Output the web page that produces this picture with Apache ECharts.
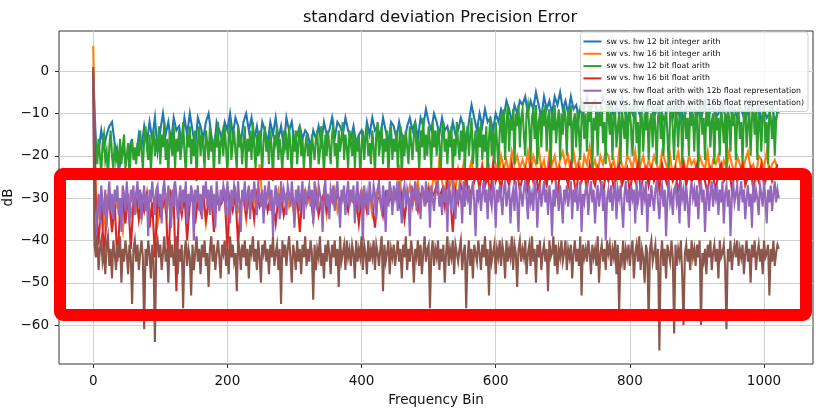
<!DOCTYPE html>
<html>
<head>
<meta charset="utf-8">
<script src="https://cdn.jsdelivr.net/npm/echarts@6/dist/echarts.min.js"></script>
<style>html,body{margin:0;padding:0;background:#fff}#c{width:819px;height:411px}</style>
</head>
<body>
<div id="c"></div>
<script>
const seriesNames = [
  'sw vs. hw 12 bit integer arith',
  'sw vs. hw 16 bit integer arith',
  'sw vs. hw 12 bit float arith',
  'sw vs. hw 16 bit float arith',
  'sw vs. hw float arith with 12b float representation',
  'sw vs. hw float arith with 16b float representation)'
];
const xTicks = [0, 200, 400, 600, 800, 1000];
const yTicks = [-60, -50, -40, -30, -20, -10, 0];
// bin spacing of the sampled values in each series
const binSteps = [4, 4, 2, 4, 2, 2];

const blue = [
-1,-17,-19,-14,-18,-15,-13,-12,-17,-19,-22,-18,-21,-20,-17,-19,
-20,-15,-18,-13,-17,-12,-16,-11,-19,-14,-10,-15,-12,-17,-11,-14,
-13,-17,-11,-15,-10,-14,-18,-11,-13,-16,-12,-10,-15,-19,-12,-14,
-16,-12,-14,-10,-15,-11,-13,-17,-12,-10,-14,-11,-16,-13,-18,-12,
-14,-17,-12,-15,-11,-16,-13,-18,-11,-14,-12,-17,-15,-13,-16,-14,
-15,-18,-14,-16,-13,-17,-12,-15,-14,-11,-16,-12,-13,-15,-11,-14,
-16,-13,-17,-15,-14,-18,-12,-15,-11,-14,-13,-16,-11,-14,-17,-12,
-13,-16,-12,-15,-17,-13,-11,-14,-12,-16,-11,-13,-9,-12,-14,-10,
-12,-15,-11,-14,-13,-16,-12,-15,-14,-11,-13,-17,-12,-8,-11,-14,
-10,-13,-9,-12,-11,-14,-10,-12,-9,-11,-7,-9,-12,-8,-10,-7,
-8,-6,-10,-7,-9,-5,-8,-11,-6,-9,-7,-10,-6,-8,-5,-9,
-7,-10,-6,-9,-8,-11,-7,-9,-6,-10,-8,-7,-11,-9,-6,-8,
-9,-7,-11,-8,-10,-6,-9,-12,-8,-10,-7,-9,-11,-8,-10,-7,
-8,-11,-9,-7,-10,-12,-8,-9,-11,-7,-10,-8,-12,-9,-7,-10,
-9,-11,-8,-10,-7,-12,-9,-8,-11,-10,-7,-9,-12,-8,-10,-9,
-11,-8,-10,-12,-9,-7,-11,-10,-8,-12,-9,-11,-10,-8,-12,-10
];
const orange = [
6,-30,-34,-31,-36,-30,-32,-37,-33,-31,-35,-38,-30,-32,-34,-31,
-33,-30,-35,-31,-29,-34,-32,-30,-36,-31,-29,-33,-30,-35,-28,-32,
-30,-33,-29,-35,-31,-30,-34,-29,-32,-30,-36,-31,-29,-33,-30,-32,
-31,-29,-34,-30,-32,-29,-33,-31,-30,-35,-29,-32,-30,-33,-22,-30,
-32,-29,-31,-34,-30,-28,-33,-30,-29,-32,-30,-35,-29,-31,-30,-28,
-31,-29,-33,-28,-32,-30,-29,-34,-30,-31,-28,-33,-30,-29,-32,-30,
-29,-31,-33,-30,-28,-32,-30,-29,-34,-31,-28,-30,-32,-29,-31,-28,
-30,-29,-22,-31,-28,-30,-27,-32,-29,-26,-31,-28,-30,-27,-29,-24,
-28,-21,-26,-29,-24,-27,-25,-28,-23,-26,-22,-27,-24,-21,-26,-23,
-25,-22,-27,-21,-24,-26,-22,-25,-20,-23,-21,-24,-19,-22,-20,-23,
-21,-23,-19,-24,-20,-22,-18,-23,-21,-25,-19,-22,-20,-24,-21,-19,
-22,-20,-24,-19,-23,-21,-25,-20,-22,-18,-23,-21,-24,-20,-22,-19,
-20,-23,-21,-25,-19,-22,-24,-20,-21,-23,-19,-25,-22,-20,-24,-21,
-23,-20,-22,-24,-19,-21,-23,-20,-25,-22,-19,-23,-21,-24,-20,-22,
-21,-24,-20,-22,-23,-19,-25,-21,-22,-20,-24,-21,-23,-19,-22,-24,
-20,-22,-24,-21,-19,-23,-22,-25,-20,-21,-23,-19,-24,-22,-21,-23
];
const green = [
-2,-13,-18,-22,-16,-20,-24,-17,-15,-21,-19,-25,-18,-14,-20,-23,
-17,-21,-19,-24,-16,-22,-18,-15,-23,-20,-17,-25,-19,-16,-21,-18,
-22,-17,-20,-14,-19,-23,-16,-13,-18,-21,-15,-24,-17,-14,-20,-16,
-19,-13,-22,-15,-18,-12,-21,-16,-25,-14,-17,-20,-13,-23,-16,-19,
-14,-21,-17,-12,-19,-24,-15,-18,-13,-22,-16,-20,-14,-26,-17,-13,
-20,-15,-18,-23,-14,-17,-21,-13,-19,-16,-25,-15,-18,-12,-22,-17,
-15,-20,-13,-18,-24,-16,-12,-21,-17,-14,-19,-23,-13,-18,-15,-22,
-17,-13,-25,-16,-19,-14,-21,-12,-18,-23,-15,-20,-14,-17,-24,-16,
-13,-19,-16,-22,-14,-18,-26,-15,-17,-13,-21,-16,-19,-24,-14,-18,
-16,-21,-13,-18,-25,-15,-19,-14,-22,-17,-13,-20,-16,-23,-18,-15,
-20,-17,-24,-15,-18,-21,-16,-14,-22,-19,-13,-17,-25,-15,-20,-14,
-18,-22,-15,-13,-20,-17,-24,-14,-19,-16,-12,-21,-15,-18,-23,-14,
-17,-20,-14,-23,-16,-19,-15,-25,-18,-14,-21,-16,-13,-20,-17,-22,
-14,-18,-24,-15,-12,-20,-17,-13,-22,-16,-19,-14,-25,-17,-13,-21,
-16,-19,-14,-23,-17,-13,-26,-15,-20,-14,-18,-22,-13,-17,-21,-15,
-12,-19,-16,-24,-14,-18,-11,-21,-15,-20,-13,-17,-23,-12,-18,-14,
-20,-13,-17,-25,-15,-12,-19,-16,-22,-14,-18,-13,-24,-16,-20,-12,
-17,-21,-14,-19,-12,-23,-16,-13,-20,-15,-11,-22,-17,-14,-25,-13,
-18,-12,-21,-15,-19,-13,-24,-16,-11,-20,-14,-22,-12,-17,-23,-14,
-10,-17,-9,-21,-12,-8,-19,-11,-14,-9,-22,-10,-13,-8,-18,-11,
-9,-15,-20,-10,-8,-13,-21,-11,-9,-16,-8,-22,-12,-10,-18,-9,
-13,-8,-19,-11,-9,-23,-10,-14,-8,-17,-12,-9,-21,-10,-15,-8,
-11,-20,-9,-13,-8,-22,-12,-10,-18,-9,-14,-21,-11,-8,-16,-10,
-19,-9,-12,-8,-23,-11,-14,-9,-20,-10,-13,-8,-17,-12,-22,-9,
-10,-15,-8,-21,-11,-9,-18,-13,-10,-22,-9,-12,-16,-8,-20,-11,
-9,-14,-20,-10,-8,-17,-12,-23,-9,-11,-19,-10,-14,-8,-21,-12,
-10,-18,-9,-13,-22,-11,-8,-16,-10,-20,-12,-9,-15,-23,-10,-8,
-14,-21,-9,-11,-18,-10,-8,-22,-12,-9,-16,-11,-20,-8,-13,-10,
-19,-9,-12,-23,-10,-8,-15,-11,-21,-9,-13,-8,-18,-12,-10,-22,
-9,-14,-11,-20,-8,-12,-17,-10,-23,-9,-11,-19,-8,-13,-10,-21,
-11,-9,-16,-12,-22,-10,-8,-18,-13,-9,-20,-11,-8,-15,-10,-21,
-9,-13,-19,-10,-8,-17,-12,-22,-9,-11,-16,-10,-20,-12,-9,-10
];
const red = [
0,-32,-41,-30,-44,-34,-29,-38,-31,-45,-33,-30,-36,-29,-42,-31,
-29,-35,-30,-33,-29,-37,-31,-44,-29,-34,-32,-30,-46,-29,-31,-52,
-30,-34,-29,-40,-31,-29,-36,-30,-33,-29,-35,-31,-29,-38,-30,-32,
-31,-29,-42,-30,-33,-29,-41,-31,-29,-34,-30,-29,-35,-29,-32,-30,
-29,-33,-30,-31,-36,-30,-29,-34,-31,-29,-30,-32,-30,-38,-29,-31,
-30,-29,-35,-29,-34,-31,-29,-33,-30,-29,-32,-29,-31,-30,-30,-33,
-29,-31,-30,-36,-30,-29,-33,-29,-31,-37,-30,-30,-34,-29,-31,-30,
-30,-29,-32,-29,-35,-30,-31,-28,-30,-33,-29,-29,-31,-28,-30,-29,
-27,-30,-28,-32,-26,-29,-38,-28,-31,-27,-29,-25,-30,-28,-26,-24,
-28,-23,-27,-25,-29,-22,-26,-24,-28,-23,-25,-27,-22,-26,-24,-28,
-25,-23,-28,-22,-26,-24,-29,-23,-25,-27,-22,-26,-24,-30,-23,-25,
-24,-27,-22,-25,-29,-23,-26,-24,-28,-22,-25,-27,-23,-26,-29,-24,
-26,-23,-28,-24,-22,-27,-25,-23,-29,-24,-26,-22,-28,-25,-23,-27,
-23,-26,-24,-28,-22,-25,-27,-24,-26,-23,-29,-25,-22,-27,-24,-26,
-25,-22,-27,-24,-26,-29,-23,-25,-28,-24,-22,-26,-25,-23,-28,-24,
-26,-24,-22,-27,-25,-23,-28,-24,-26,-22,-27,-25,-23,-26,-24,-22
];
const purple = [
-1,-38,-41,-33,-29,-36,-27,-31,-34,-28,-37,-30,-26,-33,-29,-35,
-28,-31,-27,-34,-30,-38,-27,-29,-33,-26,-31,-36,-28,-30,-27,-34,
-29,-26,-32,-28,-35,-30,-27,-33,-29,-39,-28,-31,-26,-30,-34,-28,
-27,-32,-29,-36,-28,-26,-31,-33,-27,-30,-37,-28,-32,-26,-29,-35,
-30,-27,-33,-28,-31,-26,-36,-29,-32,-27,-30,-40,-28,-31,-27,-33,
-29,-35,-27,-30,-26,-32,-28,-34,-27,-31,-29,-37,-26,-30,-33,-28,
-31,-27,-29,-34,-26,-30,-36,-28,-32,-27,-29,-33,-26,-31,-38,-28,
-30,-26,-33,-29,-27,-35,-28,-31,-26,-30,-34,-27,-29,-32,-28,-36,
-27,-31,-29,-26,-33,-28,-39,-30,-27,-32,-29,-35,-26,-31,-28,-30,
-34,-27,-29,-32,-26,-30,-37,-28,-31,-27,-33,-29,-26,-35,-28,-31,
-29,-27,-32,-28,-36,-26,-30,-33,-27,-29,-31,-38,-28,-26,-32,-29,
-35,-28,-30,-27,-33,-29,-26,-31,-37,-28,-30,-27,-34,-29,-26,-32,
-28,-31,-27,-36,-29,-26,-33,-30,-28,-40,-27,-31,-29,-34,-26,-30,
-32,-27,-29,-35,-28,-26,-31,-33,-27,-30,-38,-28,-32,-26,-29,-34,
-27,-30,-28,-33,-26,-31,-36,-29,-27,-32,-28,-30,-39,-27,-31,-29,
-26,-33,-28,-30,-35,-27,-29,-32,-26,-31,-28,-37,-27,-30,-33,-29,
-28,-26,-32,-29,-34,-27,-31,-28,-38,-26,-30,-33,-27,-29,-35,-28,
-31,-27,-29,-36,-26,-32,-28,-30,-27,-34,-29,-26,-31,-39,-28,-30,
-27,-33,-29,-26,-31,-28,-35,-27,-30,-32,-26,-29,-37,-28,-31,-27,
-30,-34,-28,-26,-32,-29,-27,-36,-30,-28,-33,-26,-31,-38,-27,-29,
-32,-28,-26,-30,-35,-27,-31,-29,-33,-26,-28,-37,-30,-27,-32,-29,
-26,-31,-28,-34,-27,-30,-39,-28,-32,-26,-29,-33,-27,-31,-36,-28,
-30,-27,-32,-29,-26,-35,-28,-31,-27,-33,-30,-26,-38,-29,-31,-28,
-27,-34,-29,-26,-31,-28,-36,-30,-27,-32,-29,-26,-33,-28,-40,-30,
-28,-31,-27,-33,-29,-26,-35,-28,-30,-27,-32,-37,-29,-26,-31,-28,
-33,-27,-30,-28,-36,-26,-31,-29,-27,-34,-28,-30,-26,-38,-29,-32,
-27,-30,-33,-28,-26,-31,-35,-29,-27,-32,-28,-39,-30,-26,-31,-29,
-34,-28,-27,-31,-29,-36,-26,-30,-28,-33,-27,-31,-37,-29,-26,-30,
-28,-32,-27,-35,-29,-26,-31,-28,-38,-30,-27,-33,-29,-26,-32,-28,
-30,-27,-34,-28,-31,-26,-36,-29,-27,-32,-28,-39,-30,-26,-31,-29,
-27,-33,-29,-26,-31,-28,-35,-30,-27,-32,-29,-37,-26,-31,-28,-30,
-34,-27,-29,-32,-26,-30,-36,-28,-31,-27,-33,-29,-26,-31,-28,-30
];
const brown = [
1,-41,-44,-39,-47,-42,-40,-45,-43,-48,-41,-39,-46,-42,-49,-40,
-43,-47,-41,-44,-39,-50,-42,-45,-40,-43,-48,-41,-44,-55,-42,-40,
-45,-41,-47,-43,-40,-44,-61,-42,-46,-40,-43,-49,-41,-45,-64,-42,
-40,-44,-41,-47,-43,-39,-45,-42,-50,-40,-44,-41,-46,-43,-39,-48,
-42,-45,-41,-56,-43,-40,-46,-42,-44,-53,-41,-47,-43,-39,-45,-42,
-48,-41,-44,-40,-46,-43,-51,-42,-39,-45,-41,-47,-43,-40,-44,-49,
-41,-43,-40,-46,-42,-48,-39,-44,-41,-45,-43,-52,-40,-42,-47,-41,
-44,-40,-46,-42,-49,-41,-43,-39,-45,-42,-47,-40,-44,-50,-41,-43,
-40,-45,-42,-48,-41,-44,-39,-46,-43,-41,-47,-42,-55,-40,-44,-41,
-46,-42,-39,-44,-50,-41,-43,-47,-40,-45,-42,-48,-41,-44,-39,-46,
-42,-45,-40,-43,-54,-41,-47,-42,-44,-39,-46,-43,-49,-41,-45,-40,
-43,-48,-41,-44,-40,-46,-42,-51,-39,-45,-43,-41,-47,-40,-44,-42,
-46,-41,-43,-49,-40,-45,-42,-44,-39,-47,-41,-43,-48,-40,-45,-42,
-44,-40,-47,-41,-43,-46,-42,-39,-52,-41,-45,-43,-40,-48,-42,-44,
-41,-46,-43,-40,-45,-42,-49,-41,-44,-39,-47,-42,-45,-40,-43,-50,
-42,-44,-40,-46,-41,-48,-43,-39,-45,-42,-41,-56,-43,-40,-46,-42,
-44,-40,-47,-42,-45,-41,-50,-43,-39,-46,-42,-44,-40,-48,-41,-43,
-45,-42,-40,-47,-43,-41,-56,-44,-40,-46,-42,-49,-41,-43,-45,-40,
-43,-47,-41,-44,-39,-46,-42,-53,-40,-45,-43,-41,-48,-42,-44,-40,
-46,-41,-43,-49,-40,-45,-42,-44,-39,-47,-41,-43,-51,-42,-40,-45,
-42,-44,-40,-48,-43,-41,-46,-39,-45,-42,-50,-41,-44,-40,-47,-43,
-41,-45,-42,-52,-40,-44,-43,-39,-46,-41,-48,-42,-44,-40,-45,-43,
-40,-47,-42,-44,-41,-49,-43,-40,-45,-42,-46,-39,-53,-41,-44,-42,
-45,-40,-43,-48,-41,-44,-42,-46,-39,-50,-43,-41,-45,-42,-47,-40,
-43,-41,-46,-42,-44,-40,-48,-41,-57,-43,-45,-40,-47,-42,-44,-41,
-46,-42,-40,-49,-43,-41,-45,-39,-47,-42,-44,-50,-41,-43,-59,-42,
-40,-45,-43,-41,-47,-42,-66,-44,-40,-46,-42,-49,-41,-43,-45,-40,
-44,-62,-41,-46,-42,-44,-40,-48,-60,-43,-41,-45,-42,-47,-40,-44,
-42,-46,-41,-44,-40,-60,-43,-45,-42,-48,-41,-44,-40,-47,-43,-41,
-45,-42,-49,-40,-44,-43,-41,-46,-61,-42,-45,-40,-47,-43,-41,-44,
-40,-46,-42,-44,-41,-48,-43,-40,-45,-42,-50,-41,-44,-40,-47,-43,
-41,-45,-42,-48,-40,-44,-43,-41,-53,-42,-45,-40,-46,-43,-41,-42
];

const colors = ['#1f77b4', '#ff7f0e', '#2ca02c', '#d62728', '#9467bd', '#8c564b'];
const allValues = [blue, orange, green, red, purple, brown];
const font = 'DejaVu Sans';
const minus = v => (v < 0 ? '\u2212' + (-v) : String(v));

const chart = echarts.init(document.getElementById('c'), null, { renderer: 'canvas' });
chart.setOption({
  animation: false,
  backgroundColor: '#fff',
  color: colors,
  title: {
    text: 'standard deviation Precision Error',
    left: 435, top: 5, textAlign: 'center',
    textStyle: { fontFamily: font, fontSize: 16.2, fontWeight: 'normal', color: '#111' }
  },
  grid: {
    left: 59, top: 31, width: 754, height: 333,
    containLabel: false, outerBoundsMode: 'none',
    show: true, borderColor: '#333', borderWidth: 1, backgroundColor: 'transparent'
  },
  legend: {
    orient: 'vertical', right: 11, top: 32,
    icon: 'rect', itemWidth: 18, itemHeight: 2, itemGap: 3.3,
    padding: [5, 4, 4, 3],
    backgroundColor: 'rgba(255,255,255,0.85)', borderColor: '#d0d0d0', borderWidth: 1, borderRadius: 3,
    textStyle: { fontFamily: font, fontSize: 7.8, color: '#111', lineHeight: 9 },
    data: seriesNames
  },
  xAxis: {
    type: 'value', min: -51, max: 1073,
    name: 'Frequency Bin', nameLocation: 'middle', nameGap: 29, nameMoveOverlap: false,
    nameTextStyle: { fontFamily: font, fontSize: 13.5, color: '#111' },
    axisLine: { show: false, onZero: false },
    axisTick: { show: true, length: 4, lineStyle: { color: '#333' }, customValues: xTicks },
    axisLabel: { fontFamily: font, fontSize: 13.5, color: '#111', margin: 10, customValues: xTicks, formatter: v => String(v) },
    splitLine: { show: true, lineStyle: { color: '#cfcfcf', width: 1 } }
  },
  yAxis: {
    type: 'value', min: -69.2, max: 9.5,
    name: 'dB', nameLocation: 'middle', nameGap: 44, nameRotate: 90, nameMoveOverlap: false,
    nameTextStyle: { fontFamily: font, fontSize: 13.5, color: '#111' },
    axisLine: { show: false, onZero: false },
    axisTick: { show: true, length: 4, lineStyle: { color: '#333' }, customValues: yTicks },
    axisLabel: { fontFamily: font, fontSize: 13.5, color: '#111', margin: 10, customValues: yTicks, formatter: minus },
    splitLine: { show: true, lineStyle: { color: '#cfcfcf', width: 1 } }
  },
  series: allValues.map((vals, k) => ({
    name: seriesNames[k],
    type: 'line',
    showSymbol: false, symbol: 'none',
    lineStyle: { width: 2.1, color: colors[k], join: 'miter' },
    itemStyle: { color: colors[k] },
    emphasis: { disabled: true },
    data: vals.map((v, i) => [i * binSteps[k], v])
  })),
  graphic: [{
    type: 'rect', z: 100,
    shape: { x: 60, y: 174, width: 746, height: 141, r: 3 },
    style: { fill: null, stroke: '#ff0000', lineWidth: 12 }
  }]
});
</script>
</body>
</html>
